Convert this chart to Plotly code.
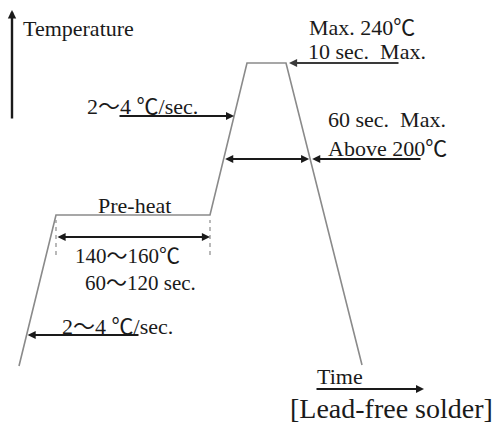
import numpy as np
import plotly.graph_objects as go

# Reflow profile in diagram units (time to the right, temperature upward)
t_profile = [19, 56, 210, 247, 286, 362]
T_profile = [60, 211, 211, 363, 363, 61]

# Reference levels (diagram units)
level_200 = 267          # "Above 200℃" level
preheat_arrow_T = 189    # level of the pre-heat span arrow
preheat_dash = [171, 206]  # dashed marker extent

C = "<span style=\"font-family:'Noto Sans CJK JP'\">℃</span>"
W = "<span style=\"font-family:'Noto Sans CJK JP'\">～</span>"

labels = {
    "temp": "Temperature",
    "ramp_up": f"2{W}4 {C}/sec.",
    "peak1": f"Max. 240{C}",
    "peak2": "10 sec.  Max.",
    "above1": "60 sec.  Max.",
    "above2": f"Above 200{C}",
    "preheat": "Pre-heat",
    "pre_t": f"140{W}160{C}",
    "pre_s": f"60{W}120 sec.",
    "ramp_in": f"2{W}4 {C}/sec.",
    "time": "Time",
    "title": "[Lead-free solder]",
}

H = 426
FONT = "Liberation Serif"
TXT = "#1a1a1a"
GRAY = "#8a8a8a"

fig = go.Figure()

# profile line
fig.add_trace(go.Scatter(x=t_profile, y=T_profile, mode="lines",
                         line=dict(color=GRAY, width=1.6), hoverinfo="skip"))

# dashed pre-heat markers
for tx in (t_profile[1], t_profile[2]):
    fig.add_trace(go.Scatter(x=[tx, tx], y=preheat_dash, mode="lines",
                             line=dict(color=GRAY, width=1.2, dash="4px,4px"),
                             hoverinfo="skip"))

# crossing points at 200 level
rise_x = np.interp(level_200, [T_profile[2], T_profile[3]], [t_profile[2], t_profile[3]])
fall_x = np.interp(level_200, [T_profile[5], T_profile[4]], [t_profile[5], t_profile[4]])

def text(x, ypix, s, size=22, anchor="left"):
    fig.add_annotation(x=x, y=H - ypix, text=s, showarrow=False, xanchor=anchor,
                       yanchor="middle", font=dict(family=FONT, size=size, color=TXT))

def arrow(x0, y0, x1, y1, width=1.8, color="#1a1a1a", side="end", size=0.9):
    fig.add_annotation(x=x1, y=y1, ax=x0, ay=y0, xref="x", yref="y", axref="x", ayref="y",
                       showarrow=True, arrowhead=2, arrowsize=size, arrowwidth=width,
                       arrowcolor=color, arrowside=side, text="", standoff=0, startstandoff=0)

# axes arrows
arrow(12, H - 120, 12, H - 10, width=2.4, size=0.7)
text(21, 28, labels["temp"])
arrow(315, H - 389, 424, H - 389, width=2, size=0.8)
text(315, 376, labels["time"])
text(288, 408, labels["title"], size=28)

# ramp up arrow
text(85, 104, labels["ramp_up"])
arrow(118, H - 116, np.interp(H - 116, [T_profile[2], T_profile[3]], [t_profile[2], t_profile[3]]), H - 116)

# peak
text(307, 25, labels["peak1"])
text(306, 51, labels["peak2"])
arrow(400, T_profile[3], t_profile[4] + 3, T_profile[3], color="#3a3a3a")

# above 200
text(326, 119, labels["above1"])
text(326, 146, labels["above2"])
arrow(rise_x, level_200, fall_x - 1, level_200, side="end+start")
arrow(422, level_200, fall_x + 2, level_200)

# pre-heat
text(96, 205, labels["preheat"])
arrow(t_profile[1], preheat_arrow_T, t_profile[2], preheat_arrow_T, side="end+start")
text(73, 254, labels["pre_t"], size=21)
text(83, 281, labels["pre_s"], size=21)

# ramp in
text(60, 324, labels["ramp_in"])
arrow(140, H - 335, np.interp(H - 335, [T_profile[0], T_profile[1]], [t_profile[0], t_profile[1]]) + 1, H - 335)

fig.update_layout(
    width=497, height=426, margin=dict(l=0, r=0, t=0, b=0),
    paper_bgcolor="white", plot_bgcolor="white", showlegend=False,
    xaxis=dict(range=[0, 497], visible=False, fixedrange=True),
    yaxis=dict(range=[0, 426], visible=False, fixedrange=True),
)

fig.write_html("out.html", config={"displayModeBar": False},
               post_script="document.body.style.margin='0';")
